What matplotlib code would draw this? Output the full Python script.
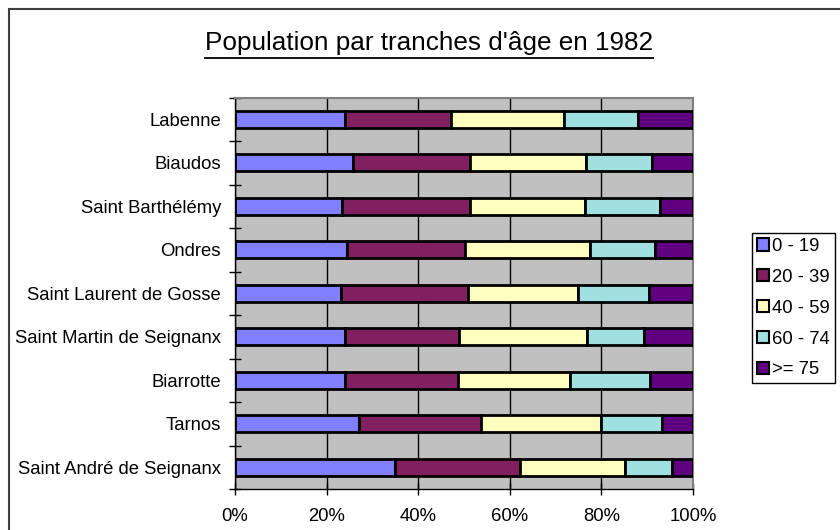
import numpy as np
import matplotlib
matplotlib.use('Agg')
import matplotlib.pyplot as plt
from matplotlib.lines import Line2D
from matplotlib.patches import Rectangle, Patch
from matplotlib.ticker import FixedLocator, PercentFormatter

plt.rcParams['font.family'] = ['Liberation Sans', 'DejaVu Sans']

# communes, from top to bottom of the chart
communes = ['Labenne', 'Biaudos', 'Saint Barthélémy', 'Ondres',
            'Saint Laurent de Gosse', 'Saint Martin de Seignanx',
            'Biarrotte', 'Tarnos', 'Saint André de Seignanx']

age_groups = ['0 - 19', '20 - 39', '40 - 59', '60 - 74', '>= 75']

# share of each age group (%)
pct_0_19 = [24.0, 25.8, 23.3, 24.4, 23.2, 24.1, 24.1, 27.1, 35.0]
pct_20_39 = [23.1, 25.6, 28.0, 25.9, 27.6, 24.8, 24.5, 26.6, 27.2]
pct_40_59 = [24.7, 25.3, 25.1, 27.2, 24.1, 28.0, 24.6, 26.3, 22.9]
pct_60_74 = [16.2, 14.4, 16.3, 14.1, 15.6, 12.5, 17.5, 13.3, 10.3]
pct_75 = [12.0, 8.9, 7.3, 8.4, 9.5, 10.6, 9.3, 6.7, 4.6]

colors = ['#8080FF', '#802060', '#FFFFC0', '#A0E0E0', '#600080']

series = [pct_0_19, pct_20_39, pct_40_59, pct_60_74, pct_75]

fig = plt.figure(figsize=(8.4, 5.3), dpi=100)
ax = fig.add_axes([235 / 840, 1 - 489 / 530, 458 / 840, 391.5 / 530])
ax.set_facecolor('#C0C0C0')

y = np.arange(len(communes))
left = np.zeros(len(communes))
for vals, col, lab in zip(series, colors, age_groups):
    vals = np.array(vals)
    ax.barh(y, vals, left=left, height=0.4, color=col, edgecolor='black',
            linewidth=2, label=lab, zorder=3)
    left += vals

ax.set_xlim(0, 100)
ax.set_ylim(len(communes) - 0.5, -0.5)
ax.xaxis.set_major_locator(FixedLocator([0, 20, 40, 60, 80, 100]))
ax.xaxis.set_major_formatter(PercentFormatter(decimals=0))
ax.set_yticks(y)
ax.set_yticklabels(communes)
ax.yaxis.set_minor_locator(FixedLocator(np.arange(len(communes) + 1) - 0.5))
ax.tick_params(axis='y', which='major', length=0, labelsize=13.3, pad=10)
ax.tick_params(axis='y', which='minor', direction='inout', length=8, width=1)
ax.tick_params(axis='x', direction='inout', length=8, width=1, labelsize=13.3, pad=10)
ax.grid(axis='x', color='black', linewidth=1, zorder=1)
ax.set_axisbelow(True)

for side in ['top', 'right']:
    ax.spines[side].set_color('#808080')
    ax.spines[side].set_linewidth(1.5)
for side in ['left', 'bottom']:
    ax.spines[side].set_color('black')
    ax.spines[side].set_linewidth(1)

# legend
handles = [Patch(facecolor=c, edgecolor='black', linewidth=1.5) for c in colors]
leg = fig.legend(handles, age_groups, loc='lower left',
                 bbox_to_anchor=(752 / 840, 1 - 383 / 530),
                 fontsize=13.3, frameon=True, fancybox=False, framealpha=1,
                 edgecolor='black', handlelength=0.65, handleheight=0.65,
                 handletextpad=0.2, labelspacing=0.75, borderpad=0.25,
                 borderaxespad=0)
leg.get_frame().set_linewidth(1)

# title with underline
title = fig.text(429 / 840, 1 - 43 / 530, "Population par tranches d'âge en 1982",
                 ha='center', va='center', fontsize=18.8)
fig.canvas.draw()
bb = title.get_window_extent(fig.canvas.get_renderer())
uy = 1 - 57.5 / 530
fig.add_artist(Line2D([bb.x0 / 840, bb.x1 / 840], [uy, uy], color='black',
                      linewidth=1.3))

# outer chart frame
fig.add_artist(Rectangle((9 / 840, -0.05), 1.0, 1 - 9 / 530 + 0.05,
                         transform=fig.transFigure, fill=False,
                         edgecolor='#404040', linewidth=1.5, clip_on=False))

fig.savefig('out.png', dpi=100)
